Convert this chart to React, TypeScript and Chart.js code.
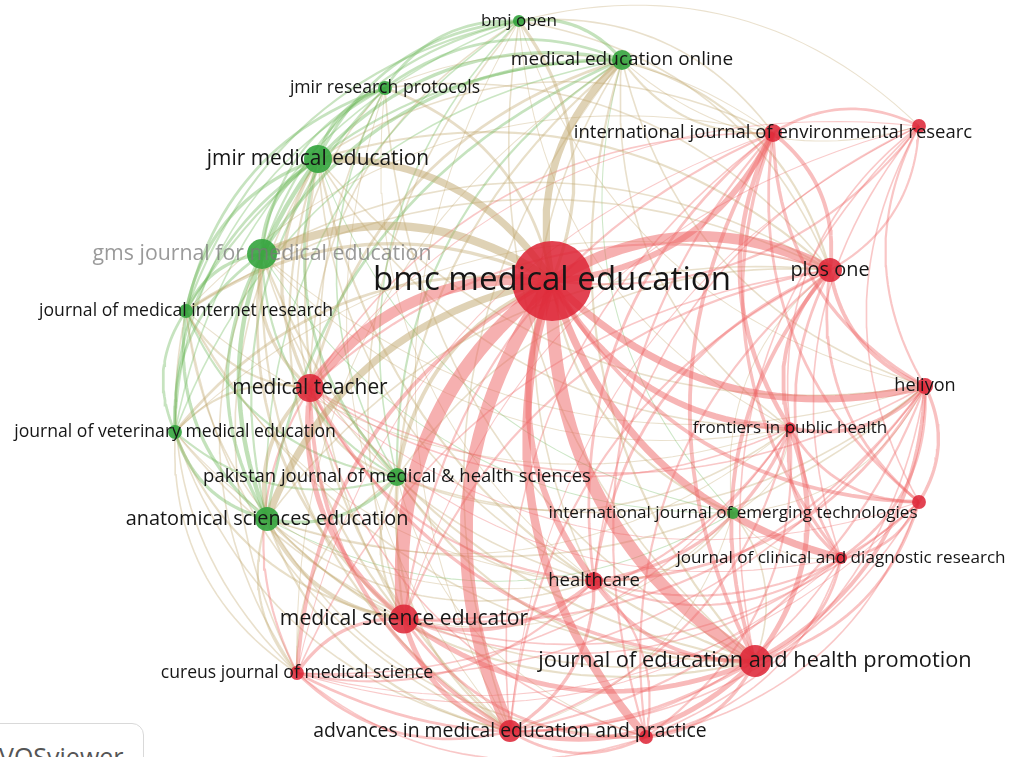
import { useEffect, useRef } from "react";
import { Chart, registerables } from "chart.js";

Chart.register(...registerables);

// ---- Nodes (journals) : VOSviewer map coordinates, weight, cluster ----
const nodeNames = [
  "bmc medical education",
  "bmj open",
  "medical education online",
  "jmir research protocols",
  "jmir medical education",
  "gms journal for medical education",
  "journal of medical internet research",
  "journal of veterinary medical education",
  "pakistan journal of medical & health sciences",
  "anatomical sciences education",
  "international journal of emerging technologies",
  "medical teacher",
  "medical science educator",
  "cureus journal of medical science",
  "advances in medical education and practice",
  "",
  "journal of education and health promotion",
  "healthcare",
  "journal of clinical and diagnostic research",
  "",
  "frontiers in public health",
  "heliyon",
  "plos one",
  "international journal of environmental researc",
  "",
];

const nodeX = [
  0.094, 0.028, 0.234, -0.24, -0.374, -0.486, -0.638, -0.66, -0.216, -0.476, 0.456,
  -0.39, -0.202, -0.416, 0.01, 0.282, 0.5, 0.178, 0.672, 0.828, 0.57, 0.84, 0.65, 0.536, 0.828,
];

const nodeY = [
  0.198, 0.718, 0.64, 0.584, 0.442, 0.252, 0.138, -0.104, -0.194, -0.278, -0.266,
  -0.016, -0.478, -0.586, -0.702, -0.714, -0.562, -0.402, -0.356, -0.244, -0.096, -0.012, 0.22, 0.494, 0.508,
];

const nodeWeight = [
  400, 9, 25, 12, 49, 56, 12, 12, 20, 36, 9,
  49, 52, 12, 30, 12, 64, 20, 9, 12, 8, 16, 36, 20, 12,
];

// 1 = red cluster, 2 = green cluster
const nodeCluster = [
  1, 2, 2, 2, 2, 2, 2, 2, 2, 2, 2,
  1, 1, 1, 1, 1, 1, 1, 1, 1, 1, 1, 1, 1, 1,
];

// VOSviewer item id (a link is drawn from the lower id to the higher id)
const nodeId = [
  23, 20, 24, 19, 18, 17, 16, 14, 12, 13, 5,
  15, 11, 10, 9, 8, 6, 7, 3, 2, 4, 1, 25, 21, 22,
];

const fadedLabels = ["gms journal for medical education"];

// ---- Links : [item, item, link strength] ----
const links: [number, number, number][] = [
  // bmc medical education
  [0, 16, 22], [0, 12, 24], [0, 14, 22], [0, 22, 18], [0, 11, 18], [0, 5, 14], [0, 4, 12],
  [0, 2, 12], [0, 9, 12], [0, 17, 10], [0, 21, 12], [0, 23, 10], [0, 20, 10], [0, 13, 6],
  [0, 8, 6], [0, 6, 5], [0, 7, 4], [0, 3, 4], [0, 1, 5], [0, 15, 14], [0, 18, 12], [0, 19, 6],
  [0, 24, 3], [0, 10, 3],
  // red cluster
  [16, 20, 8], [16, 17, 6], [16, 14, 8], [16, 12, 8], [16, 22, 6], [16, 21, 6], [16, 23, 6],
  [16, 18, 4], [16, 19, 4], [16, 15, 5], [16, 13, 4], [16, 11, 5], [16, 24, 2],
  [12, 11, 8], [12, 14, 8], [12, 13, 5], [12, 17, 6], [12, 15, 4], [12, 22, 3], [12, 20, 3], [12, 21, 3],
  [12, 18, 2], [12, 19, 2], [12, 23, 3], [12, 24, 1],
  [11, 14, 6], [11, 13, 3], [11, 22, 3], [11, 17, 3], [11, 15, 2], [11, 20, 2], [11, 21, 2],
  [11, 23, 2], [11, 18, 1], [11, 19, 1], [11, 24, 1],
  [14, 17, 5], [14, 13, 4], [14, 15, 4], [14, 22, 3], [14, 20, 3], [14, 21, 3], [14, 18, 2],
  [14, 19, 2], [14, 23, 2], [14, 24, 1],
  [17, 20, 5], [17, 22, 4], [17, 21, 4], [17, 23, 4], [17, 15, 3], [17, 18, 3], [17, 19, 3], [17, 24, 2],
  [22, 23, 6], [22, 20, 6], [22, 21, 6], [22, 18, 4], [22, 19, 4], [22, 24, 3], [22, 15, 3],
  [23, 20, 7], [23, 21, 5], [23, 24, 4], [23, 18, 5], [23, 19, 4], [23, 15, 3],
  [20, 21, 6], [20, 18, 5], [20, 19, 4], [20, 15, 3],
  [21, 19, 5], [21, 18, 4], [21, 24, 3], [19, 18, 4], [24, 19, 2], [24, 20, 2], [18, 24, 2],
  [13, 15, 2], [13, 17, 3], [15, 18, 2], [15, 19, 2], [15, 21, 2], [13, 20, 2], [13, 21, 2],
  [13, 22, 2], [13, 18, 1], [13, 19, 1], [13, 23, 1],
  // green cluster
  [4, 5, 6], [4, 2, 5], [4, 3, 5], [4, 1, 4], [4, 6, 5], [4, 9, 7], [4, 7, 4], [4, 8, 4],
  [5, 6, 5], [5, 9, 5], [5, 7, 4], [5, 2, 5], [5, 3, 3], [5, 8, 3], [5, 1, 3],
  [2, 1, 5], [2, 3, 4], [2, 9, 4], [2, 6, 3], [2, 8, 3], [2, 7, 2],
  [1, 3, 4], [1, 6, 3], [1, 7, 2], [1, 8, 2], [1, 9, 2], [3, 6, 4], [3, 9, 3], [3, 7, 2], [3, 8, 2],
  [6, 9, 5], [6, 7, 4], [6, 8, 3], [9, 7, 5], [9, 8, 5], [7, 8, 3],
  [10, 17, 2], [10, 16, 2], [10, 22, 1], [10, 9, 1], [10, 4, 1], [10, 5, 1], [10, 2, 1],
  [10, 12, 1], [10, 14, 1], [10, 20, 1], [10, 21, 1], [10, 18, 1],
  // between clusters
  [11, 9, 6], [11, 5, 5], [11, 4, 5], [11, 2, 4], [11, 6, 3], [11, 7, 3], [11, 8, 3], [11, 3, 2], [11, 1, 2],
  [12, 9, 6], [2, 22, 3], [2, 23, 3], [1, 23, 2], [1, 22, 2], [2, 16, 3], [4, 16, 3],
  [4, 12, 3], [5, 12, 4], [9, 14, 3], [9, 16, 3], [9, 13, 3], [8, 12, 3], [8, 16, 3],
  [8, 17, 2], [7, 12, 3], [7, 13, 2], [6, 12, 2], [6, 22, 2], [3, 22, 2], [4, 22, 3],
  [5, 22, 2], [9, 17, 2],
  [2, 12, 3], [2, 14, 2], [2, 17, 2], [2, 20, 2], [2, 21, 2], [2, 24, 1], [2, 13, 1],
  [1, 16, 2], [1, 12, 2], [1, 24, 1], [1, 21, 1], [1, 20, 1], [1, 14, 1],
  [3, 12, 2], [3, 16, 2], [3, 23, 1], [3, 17, 1], [3, 14, 1],
  [4, 14, 3], [4, 17, 2], [4, 13, 2], [4, 20, 2], [4, 21, 2], [4, 23, 2],
  [5, 14, 3], [5, 16, 3], [5, 13, 2], [5, 17, 2], [5, 20, 1], [5, 21, 1],
  [6, 14, 2], [6, 16, 2], [6, 13, 2], [6, 17, 1], [6, 23, 1], [6, 20, 1],
  [7, 14, 2], [7, 16, 2], [7, 17, 1], [7, 22, 1],
  [8, 14, 3], [8, 13, 2], [8, 22, 2], [8, 21, 2], [8, 20, 2], [8, 15, 1],
  [9, 22, 2], [9, 21, 2], [9, 20, 1], [9, 15, 2],
];

const RED_NODE = "rgba(221,36,54,0.86)";
const GREEN_NODE = "rgba(52,164,62,0.9)";

function nodeRadius(w: number) {
  return 2 * Math.sqrt(w);
}
function labelSize(w: number) {
  return 14.3 + 0.47 * nodeRadius(w);
}

// Curved link from the lower-id item to the higher-id item, bending to the left-hand side.
function curvePoints(p: number, q: number) {
  const [a, b] = nodeId[p] < nodeId[q] ? [p, q] : [q, p];
  const x1 = nodeX[a], y1 = nodeY[a], x2 = nodeX[b], y2 = nodeY[b];
  const mx = (x1 + x2) / 2, my = (y1 + y2) / 2;
  const dx = x2 - x1, dy = y2 - y1;
  const len = Math.hypot(dx, dy) || 1;
  const nx = -dy / len, ny = dx / len;
  const k = 0.28 * len;
  const cx = mx + nx * k, cy = my + ny * k;
  const pts: { x: number; y: number }[] = [];
  const n = 28;
  for (let i = 0; i <= n; i++) {
    const t = i / n, u = 1 - t;
    pts.push({
      x: u * u * x1 + 2 * u * t * cx + t * t * x2,
      y: u * u * y1 + 2 * u * t * cy + t * t * y2,
    });
  }
  return pts;
}

function linkColor(p: number, q: number, s: number) {
  const alpha = Math.min(0.5, 0.32 + 0.015 * s);
  const ca = nodeCluster[p], cb = nodeCluster[q];
  if (ca === 1 && cb === 1) return `rgba(238,98,98,${alpha})`;
  if (ca === 2 && cb === 2) return `rgba(106,182,86,${alpha})`;
  return `rgba(192,166,108,${alpha})`;
}

const labelPlugin = {
  id: "nodeLabels",
  afterDatasetsDraw(chart: any) {
    const { ctx, scales } = chart;
    ctx.save();
    ctx.textAlign = "center";
    ctx.textBaseline = "middle";
    const order = nodeNames.map((_, i) => i).sort((p, q) => nodeWeight[p] - nodeWeight[q]);
    for (const i of order) {
      const name = nodeNames[i];
      if (!name) continue;
      const px = scales.x.getPixelForValue(nodeX[i]);
      const py = scales.y.getPixelForValue(nodeY[i]);
      ctx.font = `${labelSize(nodeWeight[i]).toFixed(1)}px "Open Sans"`;
      ctx.fillStyle = fadedLabels.includes(name) ? "rgba(120,120,120,0.75)" : "#161616";
      ctx.fillText(name, px, py);
    }
    ctx.restore();
  },
};

export default function App() {
  const canvasRef = useRef<HTMLCanvasElement | null>(null);

  useEffect(() => {
    if (!canvasRef.current) return;
    const sorted = [...links].sort((p, q) => q[2] - p[2]);
    const linkSets = sorted.map(([a, b, s]) => ({
      type: "line" as const,
      data: curvePoints(a, b),
      borderColor: linkColor(a, b, s),
      borderWidth: 0.5 + 0.56 * s,
      pointRadius: 0,
      pointHoverRadius: 0,
      fill: false,
      tension: 0,
      order: 2,
      parsing: false as const,
    }));
    const nodeSet = {
      type: "bubble" as const,
      data: nodeNames.map((_, i) => ({ x: nodeX[i], y: nodeY[i], r: nodeRadius(nodeWeight[i]) })),
      backgroundColor: nodeCluster.map((c) => (c === 1 ? RED_NODE : GREEN_NODE)),
      borderWidth: 0,
      hoverRadius: 0,
      order: 0,
    };
    const chart = new Chart(canvasRef.current, {
      type: "bubble",
      data: { datasets: [nodeSet as any, ...linkSets] },
      options: {
        animation: false,
        responsive: true,
        maintainAspectRatio: false,
        layout: { padding: 0, autoPadding: false },
        events: [],
        scales: {
          x: { type: "linear", min: -1.01, max: 1.012, display: false },
          y: { type: "linear", min: -0.754, max: 0.76, display: false },
        },
        plugins: {
          legend: { display: false },
          tooltip: { enabled: false },
        },
      },
      plugins: [labelPlugin],
    });
    return () => chart.destroy();
  }, []);

  return (
    <div style={{ position: "fixed", left: 0, top: 0, width: 1011, height: 757, background: "#fff", overflow: "hidden" }}>
      <canvas ref={canvasRef} />
      <div
        style={{
          position: "absolute",
          left: -14,
          top: 723,
          width: 158,
          height: 60,
          border: "1px solid #d9d9d9",
          borderRadius: 12,
          background: "#fff",
          boxSizing: "border-box",
        }}
      >
        <span
          style={{
            position: "absolute",
            left: 12,
            top: 20,
            fontFamily: '"Open Sans", sans-serif',
            fontSize: 25,
            lineHeight: 1,
            color: "#555",
            whiteSpace: "nowrap",
          }}
        >
          VOSviewer
        </span>
      </div>
    </div>
  );
}
